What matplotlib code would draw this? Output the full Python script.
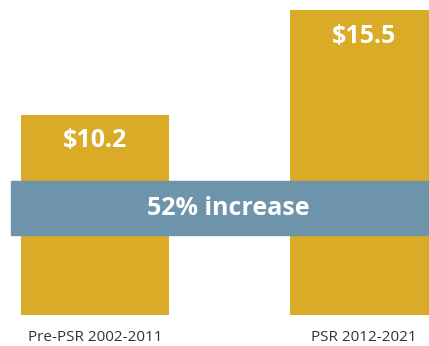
import matplotlib.pyplot as plt

plt.rcParams['font.family'] = ['Open Sans', 'DejaVu Sans']

# data
periods = ["Pre-PSR 2002-2011", "PSR 2012-2021"]
values = [10.2, 15.5]
value_labels = ["$10.2", "$15.5"]
increase_label = "52% increase"

gold = '#DAAB27'
steel = '#6E94AC'

fig = plt.figure(figsize=(4.29, 3.46), dpi=100)
ax = fig.add_axes([0, 31 / 346, 1, 315 / 346])

x = list(range(len(values)))
ax.bar(x, values, width=0.55, color=gold)

# value labels inside the top of each bar
for xi, v, lab in zip(x, values, value_labels):
    ax.annotate(lab, (xi, v), xytext=(0, -19), textcoords='offset points',
                ha='center', va='center', color='white',
                fontsize=18, fontweight='bold')

# band across both bars
ax.axhspan(4.07, 6.82, xmin=11 / 429, xmax=1, color=steel, zorder=3)
ax.text(0.532, (4.07 + 6.82) / 2, increase_label, transform=ax.get_yaxis_transform(),
        ha='center', va='center', color='white', fontsize=18,
        fontweight='bold', zorder=4)

# category labels under the bars
for xi, lab in zip(x, periods):
    ax.text(xi, -0.083, lab, transform=ax.get_xaxis_transform(),
            ha='center', va='baseline', fontsize=11, color='#333333')

ax.set_xlim(-0.353, 1.242)
ax.set_ylim(0, 16.03)
ax.set_xticks([])
ax.set_yticks([])
for s in ax.spines.values():
    s.set_visible(False)

plt.savefig('out.png', dpi=100)
